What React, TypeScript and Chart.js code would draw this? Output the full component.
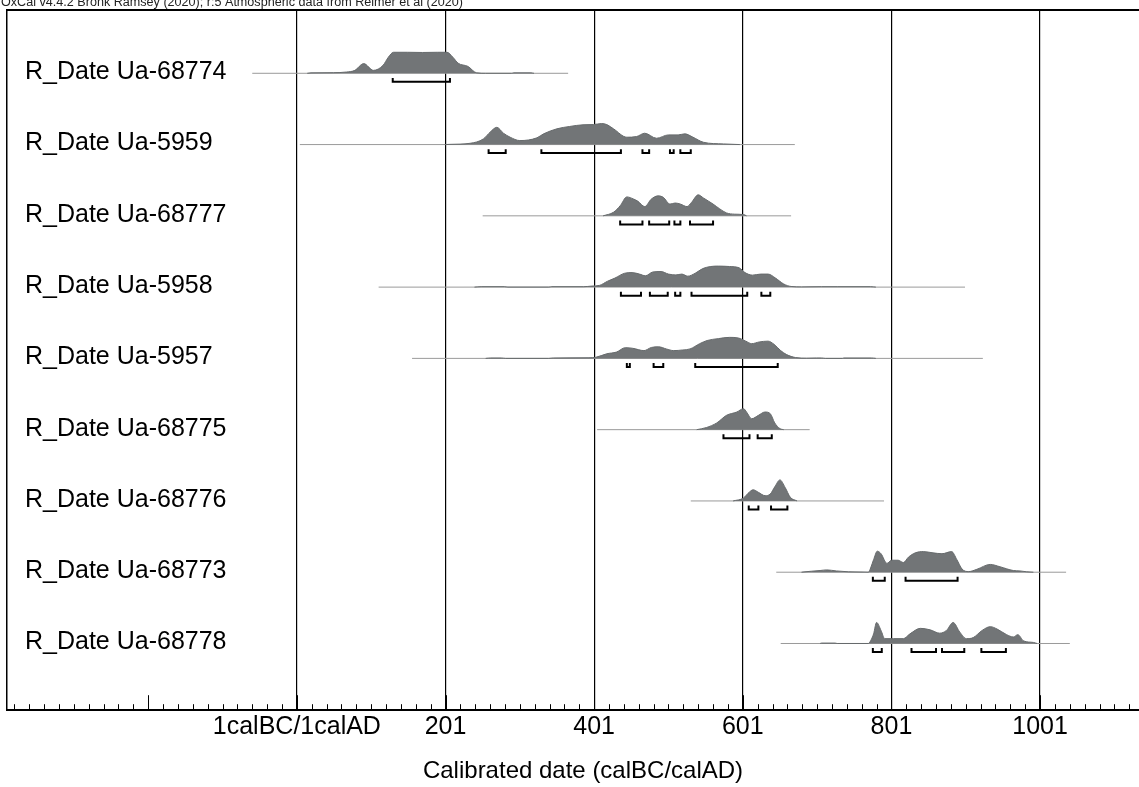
import React, { useEffect, useRef } from "react";
import { Chart, registerables } from "chart.js";

Chart.register(...registerables);

const FONT = 'Arial, "Liberation Sans", sans-serif';

const headerText =
  "OxCal v4.4.2 Bronk Ramsey (2020); r:5 Atmospheric data from Reimer et al (2020)";
const axisTitle = "Calibrated date (calBC/calAD)";

// Sample names, top to bottom
const rowLabels = [
  "R_Date Ua-68774",
  "R_Date Ua-5959",
  "R_Date Ua-68777",
  "R_Date Ua-5958",
  "R_Date Ua-5957",
  "R_Date Ua-68775",
  "R_Date Ua-68776",
  "R_Date Ua-68773",
  "R_Date Ua-68778",
];

// Major axis positions and their labels
const majorYears = [1, 201, 401, 601, 801, 1001];
const majorLabels = ["1calBC/1calAD", "201", "401", "601", "801", "1001"];

// Posterior probability densities: [calendar year, relative probability]
const ua68774Density: [number, number][] = [
  [15, 0], [20, 0.02], [50, 0.03], [68, 0.06], [79, 0.14], [91, 0.46], [104, 0.14],
  [117, 0.38], [124, 0.76], [131, 1], [150, 1], [170, 0.99], [190, 1], [203, 1],
  [211, 0.76], [218, 0.48], [231, 0.33], [243, 0.02], [255, 0], [290, 0], [293, 0.02],
  [316, 0.02], [320, 0],
];
const ua5959Density: [number, number][] = [
  [200, 0], [207, 0.01], [234, 0.06], [252, 0.27], [261, 0.59], [270, 0.82], [279, 0.54],
  [288, 0.35], [301, 0.19], [324, 0.32], [333, 0.51], [351, 0.75], [368, 0.86], [386, 0.94],
  [400, 0.95], [411, 1], [418, 0.95], [427, 0.75], [445, 0.35], [458, 0.38], [469, 0.54],
  [485, 0.3], [501, 0.46], [514, 0.46], [523, 0.51], [534, 0.35], [548, 0.11], [575, 0.03],
  [597, 0],
];
const ua68777Density: [number, number][] = [
  [413, 0], [427, 0.17], [436, 0.48], [445, 0.9], [454, 0.8], [460, 0.69], [469, 0.44],
  [478, 0.8], [487, 0.95], [494, 0.88], [503, 0.56], [510, 0.61], [517, 0.56], [526, 0.44],
  [532, 0.64], [541, 1], [548, 0.85], [561, 0.56], [570, 0.33], [579, 0.14], [590, 0.08],
  [602, 0.06], [606, 0],
];
const ua5958Density: [number, number][] = [
  [240, 0], [249, 0.02], [280, 0.02], [285, 0], [340, 0], [344, 0.02], [387, 0.02],
  [398, 0.05], [408, 0.08], [419, 0.28], [429, 0.43], [442, 0.66], [452, 0.69], [462, 0.62],
  [470, 0.54], [480, 0.72], [491, 0.74], [501, 0.62], [511, 0.58], [519, 0.62], [527, 0.52],
  [537, 0.66], [547, 0.88], [558, 0.98], [568, 1], [583, 0.98], [596, 0.92], [604, 0.69],
  [614, 0.57], [625, 0.62], [635, 0.62], [645, 0.43], [656, 0.15], [666, 0.03], [680, 0.01],
  [707, 0.02], [728, 0.02], [773, 0.02], [780, 0],
];
const ua5957Density: [number, number][] = [
  [255, 0], [262, 0.02], [276, 0.02], [282, 0], [340, 0], [346, 0.02], [394, 0.03],
  [403, 0.05], [418, 0.22], [431, 0.3], [443, 0.51], [453, 0.48], [468, 0.37], [478, 0.52],
  [488, 0.55], [498, 0.45], [508, 0.37], [520, 0.4], [530, 0.45], [543, 0.7], [553, 0.85],
  [568, 0.94], [583, 1], [595, 0.97], [605, 0.82], [613, 0.7], [623, 0.78], [635, 0.82],
  [643, 0.67], [652, 0.37], [660, 0.18], [672, 0.04], [687, 0.01], [700, 0.02], [707, 0.02],
  [712, 0], [735, 0], [737, 0.02], [774, 0.02], [780, 0],
];
const ua68775Density: [number, number][] = [
  [539, 0], [552, 0.1], [566, 0.32], [579, 0.68], [593, 0.84], [602, 1], [606, 0.84],
  [613, 0.52], [622, 0.68], [631, 0.84], [638, 0.76], [644, 0.32], [651, 0.05], [656, 0],
];
const ua68776Density: [number, number][] = [
  [588, 0], [602, 0.14], [608, 0.36], [615, 0.53], [622, 0.41], [631, 0.25], [638, 0.33],
  [644, 0.67], [651, 1], [658, 0.64], [665, 0.17], [674, 0],
];
const ua68773Density: [number, number][] = [
  [680, 0], [682, 0.01], [705, 0.08], [714, 0.11], [727, 0.06], [743, 0.02], [760, 0.01],
  [770, 0], [773, 0.2], [777, 0.6], [782, 1], [787, 0.88], [795, 0.42], [801, 0.57],
  [810, 0.57], [817, 0.46], [824, 0.72], [833, 0.92], [844, 0.98], [857, 0.92], [869, 0.88],
  [882, 0.98], [889, 0.6], [896, 0.15], [905, 0.03], [916, 0.14], [934, 0.37], [947, 0.26],
  [965, 0.08], [974, 0.06], [983, 0.02], [992, 0],
];
const ua68778Density: [number, number][] = [
  [705, 0], [707, 0.02], [725, 0.02], [728, 0], [770, 0], [774, 0.2], [777, 0.46],
  [781, 1], [787, 0.62], [792, 0.23], [804, 0.23], [817, 0.23], [826, 0.46], [840, 0.72],
  [853, 0.65], [866, 0.49], [875, 0.62], [884, 1], [893, 0.54], [902, 0.23], [911, 0.28],
  [923, 0.62], [934, 0.8], [943, 0.69], [956, 0.42], [965, 0.31], [971, 0.42], [979, 0.12],
  [992, 0.05], [997, 0],
];

// 95.4% highest posterior density ranges: [from, to]
const ua68774Ranges: [number, number][] = [[130, 207]];
const ua5959Ranges: [number, number][] = [[259, 282], [330, 437], [466, 475], [503, 508], [517, 531]];
const ua68777Ranges: [number, number][] = [[436, 466], [475, 502], [509, 517], [530, 561]];
const ua5958Ranges: [number, number][] = [[437, 464], [476, 500], [510, 517], [532, 607], [626, 638]];
const ua5957Ranges: [number, number][] = [[445, 449], [481, 494], [537, 648]];
const ua68775Ranges: [number, number][] = [[575, 610], [621, 640]];
const ua68776Ranges: [number, number][] = [[609, 622], [639, 661]];
const ua68773Ranges: [number, number][] = [[776, 792], [820, 890]];
const ua68778Ranges: [number, number][] = [[776, 788], [828, 861], [869, 899], [922, 955]];

// Full extent of each calibrated distribution
const distributionSpans: [number, number][] = [
  [-59, 366], [5, 671], [251, 666], [111, 900], [156, 924],
  [405, 691], [531, 791], [646, 1036], [652, 1041],
];

const densities = [
  ua68774Density, ua5959Density, ua68777Density, ua5958Density, ua5957Density,
  ua68775Density, ua68776Density, ua68773Density, ua68778Density,
];
const ranges = [
  ua68774Ranges, ua5959Ranges, ua68777Ranges, ua5958Ranges, ua5957Ranges,
  ua68775Ranges, ua68776Ranges, ua68773Ranges, ua68778Ranges,
];

// Row geometry in y-axis units (one unit per row)
const PEAK = 0.295;
const RANGE_TOP = 0.065;
const RANGE_BOTTOM = 0.12;

const frameAndTicks = {
  id: "frameAndTicks",
  afterDraw(chart: any) {
    const { ctx, chartArea } = chart;
    const xs = chart.scales.x;
    ctx.save();
    // header
    ctx.fillStyle = "#222";
    ctx.font = `12.6px ${FONT}`;
    ctx.textBaseline = "alphabetic";
    ctx.textAlign = "left";
    ctx.fillText(headerText, 1, 6);
    // top frame line
    ctx.strokeStyle = "#000";
    ctx.lineWidth = 2;
    ctx.beginPath();
    ctx.moveTo(chartArea.left - 1, chartArea.top);
    ctx.lineTo(chartArea.right, chartArea.top);
    ctx.stroke();
    // tick marks every 20 years, taller every 200
    ctx.lineWidth = 1;
    for (let v = -379; v <= 1161; v += 20) {
      const px = Math.round(xs.getPixelForValue(v)) + 0.5;
      if (px < chartArea.left || px > chartArea.right) continue;
      const len = (v - 1) % 200 === 0 ? 15 : 6;
      ctx.beginPath();
      ctx.moveTo(px, chartArea.bottom);
      ctx.lineTo(px, chartArea.bottom - len);
      ctx.stroke();
    }
    ctx.restore();
  },
};

export default function App() {
  const ref = useRef<HTMLCanvasElement>(null);

  useEffect(() => {
    if (!ref.current) return;
    const datasets: any[] = [];

    distributionSpans.forEach(([a, b], i) => {
      datasets.push({
        data: [{ x: a, y: i }, { x: b, y: i }],
        borderColor: "#9a9a9a",
        borderWidth: 1,
        pointRadius: 0,
        fill: false,
        order: 3,
      });
    });

    densities.forEach((d, i) => {
      datasets.push({
        data: d.map(([x, p]) => ({ x, y: i - p * PEAK })),
        borderColor: "#666a6c",
        backgroundColor: "#727577",
        borderWidth: 1,
        pointRadius: 0,
        cubicInterpolationMode: "monotone",
        fill: { value: i },
        order: 2,
      });
    });

    ranges.forEach((rs, i) => {
      const pts: any[] = [];
      rs.forEach(([a, b]) => {
        pts.push({ x: a, y: i + RANGE_TOP });
        pts.push({ x: a, y: i + RANGE_BOTTOM });
        pts.push({ x: b, y: i + RANGE_BOTTOM });
        pts.push({ x: b, y: i + RANGE_TOP });
        pts.push({ x: b, y: null });
      });
      datasets.push({
        data: pts,
        borderColor: "#000",
        borderWidth: 2,
        pointRadius: 0,
        spanGaps: false,
        tension: 0,
        fill: false,
        borderJoinStyle: "miter",
        order: 1,
      });
    });

    const chart = new Chart(ref.current, {
      type: "line",
      data: { datasets },
      plugins: [frameAndTicks],
      options: {
        animation: false,
        responsive: false,
        devicePixelRatio: 1,
        layout: { padding: { top: 10, left: 7, right: 0, bottom: 0 } },
        plugins: { legend: { display: false }, tooltip: { enabled: false } },
        scales: {
          x: {
            type: "linear",
            min: -389,
            max: 1161,
            z: 1,
            afterBuildTicks: (s: any) => {
              s.ticks = majorYears.map((v) => ({ value: v }));
            },
            ticks: {
              autoSkip: false,
              maxRotation: 0,
              padding: 2,
              color: "#000",
              font: { family: FONT, size: 25 },
              callback: (v: any) => majorLabels[majorYears.indexOf(Number(v))] ?? "",
            },
            grid: { color: "#000", lineWidth: 1.2, drawTicks: false },
            border: { display: true, color: "#000", width: 2 },
            title: {
              display: true,
              text: axisTitle,
              color: "#000",
              font: { family: FONT, size: 24 },
              padding: { top: 13, bottom: 1 },
            },
          },
          y: {
            type: "linear",
            reverse: true,
            min: -0.888,
            max: 8.936,
            afterBuildTicks: (s: any) => {
              s.ticks = rowLabels.map((_, i) => ({ value: i }));
            },
            afterFit: (s: any) => {
              s.width = 0;
              s.paddingTop = 0;
              s.paddingBottom = 0;
            },
            ticks: {
              autoSkip: false,
              mirror: true,
              padding: 18,
              labelOffset: -1,
              color: "#000",
              font: { family: FONT, size: 25 },
              callback: (v: any) => rowLabels[Number(v)] ?? "",
            },
            grid: { display: false },
            border: { display: true, color: "#000", width: 1.5 },
          },
        },
      },
    });
    return () => chart.destroy();
  }, []);

  return (
    <div
      style={{
        position: "fixed",
        left: 0,
        top: 0,
        width: 1139,
        height: 787,
        overflow: "hidden",
        background: "#fff",
      }}
    >
      <canvas ref={ref} width={1159} height={787} style={{ display: "block" }} />
    </div>
  );
}
